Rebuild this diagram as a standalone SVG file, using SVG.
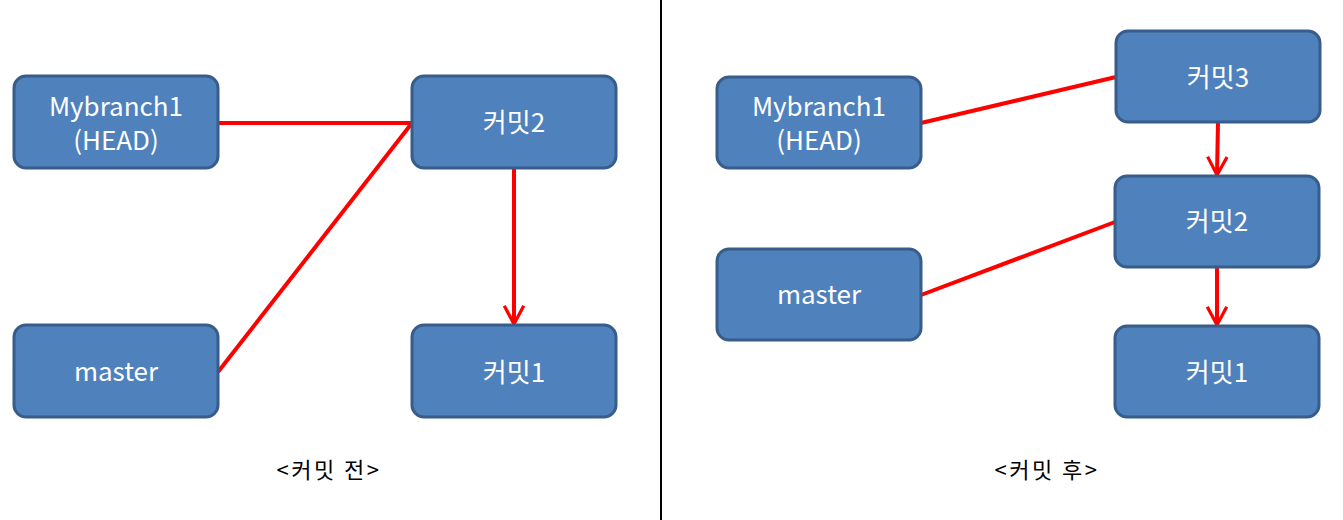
<svg xmlns="http://www.w3.org/2000/svg" width="1343" height="520" viewBox="0 0 1343 520">
<style>
.box{fill:#4F81BD;stroke:#385D8A;stroke-width:3}
.lbl{fill:#fff;font-family:"Noto Sans CJK KR","Noto Sans",sans-serif;font-size:26px;text-anchor:middle}
.cap{fill:#000;font-family:"Noto Sans CJK KR","Noto Sans",sans-serif;font-size:22px;letter-spacing:2.5px;text-anchor:middle}
.con{stroke:#FF0000;stroke-width:4;fill:none}
</style>
<defs>
<marker id="arr" viewBox="0 0 20 20" refX="18" refY="10" markerWidth="6.5" markerHeight="6.5" orient="auto" markerUnits="strokeWidth">
<polyline points="4,2.5 18,10 4,17.5" fill="none" stroke="#FF0000" stroke-width="2.5"/>
</marker>
</defs>
<rect width="1343" height="520" fill="#fff"/>
<line x1="661" y1="0" x2="661" y2="520" stroke="#000" stroke-width="2"/>
<g id="connectors">
<line class="con" x1="218" y1="123" x2="412" y2="123"/>
<line class="con" x1="218" y1="372" x2="412" y2="123"/>
<line class="con" x1="514" y1="168" x2="514" y2="324" marker-end="url(#arr)"/>
<line class="con" x1="921" y1="123" x2="1116" y2="77"/>
<line class="con" x1="921" y1="295" x2="1115" y2="222"/>
<line class="con" x1="1218" y1="122" x2="1217" y2="175" marker-end="url(#arr)"/>
<line class="con" x1="1217" y1="267" x2="1217" y2="325" marker-end="url(#arr)"/>
</g>
<g id="l-mybranch1"><rect class="box" x="14" y="76" width="204" height="92" rx="12"/><text class="lbl" x="116" y="116">Mybranch1</text><text class="lbl" x="116" y="150">(HEAD)</text></g>
<g id="l-commit2"><rect class="box" x="412" y="76" width="204" height="92" rx="12"/><text class="lbl" x="514" y="132">커밋2</text></g>
<g id="l-master"><rect class="box" x="14" y="325" width="204" height="92" rx="12"/><text class="lbl" x="116" y="381">master</text></g>
<g id="l-commit1"><rect class="box" x="412" y="325" width="204" height="92" rx="12"/><text class="lbl" x="514" y="382">커밋1</text></g>
<g id="r-mybranch1"><rect class="box" x="717" y="77" width="204" height="91" rx="12"/><text class="lbl" x="819" y="116">Mybranch1</text><text class="lbl" x="819" y="150">(HEAD)</text></g>
<g id="r-master"><rect class="box" x="717" y="249" width="204" height="91" rx="12"/><text class="lbl" x="819" y="304">master</text></g>
<g id="r-commit3"><rect class="box" x="1116" y="31" width="204" height="91" rx="12"/><text class="lbl" x="1218" y="87">커밋3</text></g>
<g id="r-commit2"><rect class="box" x="1115" y="176" width="204" height="91" rx="12"/><text class="lbl" x="1217" y="231">커밋2</text></g>
<g id="r-commit1"><rect class="box" x="1115" y="326" width="204" height="91" rx="12"/><text class="lbl" x="1217" y="382">커밋1</text></g>
<g id="captions"><text class="cap" x="329" y="478">&lt;커밋 전&gt;</text><text class="cap" x="1047" y="478">&lt;커밋 후&gt;</text></g>
</svg>
